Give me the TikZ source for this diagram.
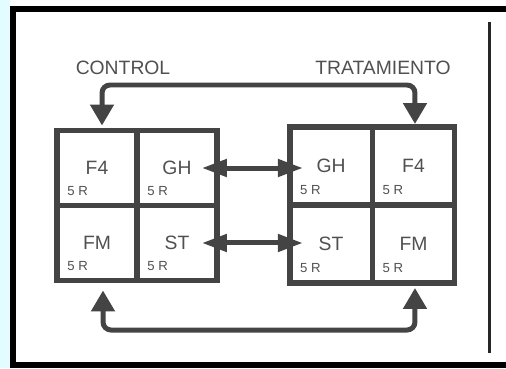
\documentclass[tikz,border=0pt]{standalone}
\usepackage{fontspec}
\setmainfont{Liberation Sans}
\usetikzlibrary{arrows.meta,positioning}
\definecolor{linegray}{HTML}{444444}
\definecolor{textgray}{HTML}{505050}
\definecolor{stripcyan}{HTML}{E2FCFF}
\begin{document}
\begin{tikzpicture}[x=0.02cm, y=-0.02cm,
    cell/.style={draw=linegray, line width=0.11cm, outer sep=0pt, inner sep=0pt,
        text=textgray, font=\fontsize{11}{13}\selectfont},
    lcell/.style={cell, minimum width=1.6cm, minimum height=1.5cm},
    rcell/.style={cell, minimum width=1.65cm, minimum height=1.56cm},
    reps/.style={text=textgray, inner sep=0pt, anchor=base west, font=\fontsize{7.5}{8}\selectfont},
    grouplabel/.style={text=textgray, font=\fontsize{11}{13}\selectfont},
    pairarrow/.style={draw=linegray, line width=0.1cm,
        {Triangle[length=0.5cm,width=0.34cm]}-{Triangle[length=0.5cm,width=0.34cm]}},
    grouparrow/.style={draw=linegray, line width=0.1cm, rounded corners=0.16cm,
        {Triangle[length=0.42cm,width=0.46cm]}-{Triangle[length=0.42cm,width=0.46cm]}}]
    \useasboundingbox (0,0) rectangle (506,368);
    \clip (0,0) rectangle (506,368);

    % frame
    \fill[stripcyan] (0,0) rectangle (10,368);
    \draw[line width=0.12cm] (13,9) rectangle (540,365);
    \draw[line width=0.06cm, black!85] (489,22) -- (489,353);

    % Control block
    \node[lcell] (l1) at (97,168) {F4};
    \node[lcell] (l2) [right=0pt of l1] {GH};
    \node[lcell] (l3) [below=0pt of l1] {FM};
    \node[lcell] (l4) [right=0pt of l3] {ST};

    % Tratamiento block
    \node[rcell] (r1) at (331,166) {GH};
    \node[rcell] (r2) [right=0pt of r1] {F4};
    \node[rcell] (r3) [below=0pt of r1] {ST};
    \node[rcell] (r4) [right=0pt of r3] {FM};

    \foreach \c in {l1,l2,l3,l4,r1,r2,r3,r4}
        \node[reps] (\c-rep) at ([shift={(0.2cm,0.2cm)}]\c.south west) {5 R};

    \node[grouplabel] (control) at (123,68) {CONTROL};
    \node[grouplabel] (tratamiento) at (383,68) {TRATAMIENTO};

    % exchanges
    \draw[pairarrow] ([xshift=-0.3cm]l2.east) -- ([xshift=0.26cm]r1.west |- l2.east);
    \draw[pairarrow] ([xshift=-0.3cm]l4.east) -- ([xshift=0.26cm]r3.west |- l4.east);

    \coordinate (topbar) at (260,85);
    \coordinate (botbar) at (260,330);
    \draw[grouparrow] ([xshift=0.1cm,yshift=0.1cm]l1.north) |- (topbar)
        -| ([xshift=0.03cm,yshift=0.06cm]r2.north);
    \draw[grouparrow] ([xshift=0.12cm,yshift=-0.2cm]l3.south) |- (botbar)
        -| ([xshift=0.03cm,yshift=-0.1cm]r4.south);
\end{tikzpicture}
\end{document}
